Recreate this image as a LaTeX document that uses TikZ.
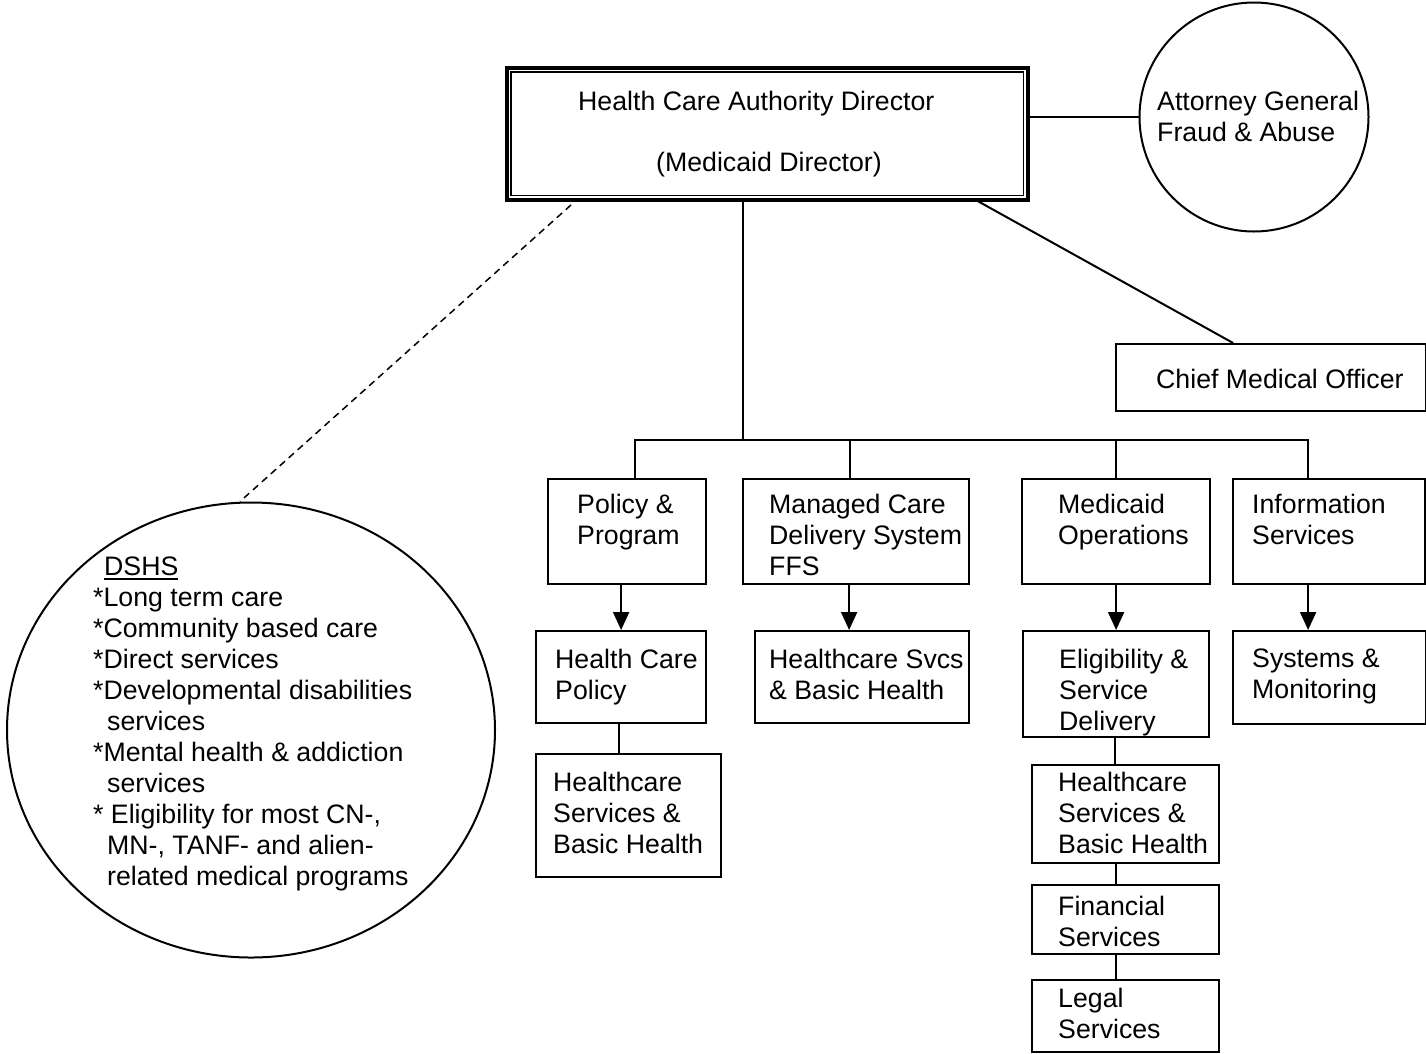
\documentclass[tikz,border=0pt]{standalone}
\usepackage{fontspec}
\setmainfont{Liberation Sans}
\usepackage{tikz}
\usetikzlibrary{shapes.geometric,arrows.meta}
\newcommand{\orgfont}{\fontsize{26.7}{31}\selectfont}

\begin{document}
\begin{tikzpicture}[x=1pt,y=-1pt,
  unit/.style={draw,line width=2.2pt,anchor=north west,inner sep=0pt},
  lbl/.style={anchor=north west,inner sep=0pt,align=left,font=\orgfont},
  link/.style={line width=2pt},
  down/.style={line width=2pt,-{Triangle[width=16pt,length=18pt]}}]
\useasboundingbox (0,0) rectangle (1426,1053);
%Boxes
\node [unit,line width=3.5pt,minimum width=521pt,minimum height=132pt] (hca) at (505,66) {};
\draw [line width=1.5pt] ([shift={(6,6)}]hca.north west) rectangle ([shift={(-6,-6)}]hca.south east);
\node [draw,circle,line width=2pt,minimum size=229pt,inner sep=0pt] (ag) at (1254,117) {};
\node [unit,minimum width=310pt,minimum height=67pt] (cmo) at (1115,343) {};
\node [unit,minimum width=158pt,minimum height=105pt] (pp) at (547,478) {};
\node [unit,minimum width=226pt,minimum height=105pt] (mc) at (742,478) {};
\node [unit,minimum width=188pt,minimum height=105pt] (mo) at (1021,478) {};
\node [unit,minimum width=192pt,minimum height=105pt] (is) at (1232,478) {};
\node [unit,minimum width=170pt,minimum height=92pt] (hcp) at (535,630) {};
\node [unit,minimum width=214pt,minimum height=92pt] (hsvc) at (754,630) {};
\node [unit,minimum width=186pt,minimum height=106pt] (esd) at (1022,630) {};
\node [unit,minimum width=193pt,minimum height=93pt] (sm) at (1232,630) {};
\node [unit,minimum width=185pt,minimum height=123pt] (hsbl) at (535,753) {};
\node [unit,minimum width=187pt,minimum height=98pt] (hsbr) at (1031,764) {};
\node [unit,minimum width=187pt,minimum height=69pt] (fin) at (1031,884) {};
\node [unit,minimum width=187pt,minimum height=72pt] (leg) at (1031,979) {};
\node [draw,ellipse,line width=2pt,minimum width=488pt,minimum height=455pt,inner sep=0pt] (dshs) at (251,730) {};
%Lines
\coordinate (bus) at (743,440);
\coordinate (dsh-top) at (571,205);
\draw [link] (hca.east |- ag.west) -- (ag.west);
\draw [link] (bus |- hca.south) -- (bus);
\draw [link] ([xshift=-51pt]hca.south east) -- ([xshift=-38pt]cmo.north);
\draw [line width=1.5pt,dash pattern=on 7pt off 5pt] (dsh-top) -- ([xshift=-11pt]dshs.north);
\draw [link] ([xshift=8pt]pp.north) |- (bus);
\draw [link] ([xshift=-6pt]mc.north) |- (bus);
\draw [link] (mo.north) |- (bus);
\draw [link] ([xshift=-21pt]is.north) |- (bus);
\draw [down] ([xshift=-6pt]pp.south) -- ([xshift=-6pt]pp.south |- hcp.north);
\draw [down] ([xshift=-7pt]mc.south) -- ([xshift=-7pt]mc.south |- hsvc.north);
\draw [down] (mo.south) -- (mo.south |- esd.north);
\draw [down] ([xshift=-21pt]is.south) -- ([xshift=-21pt]is.south |- sm.north);
\draw [link] ([xshift=-2pt]hcp.south) -- ([xshift=-2pt]hcp.south |- hsbl.north);
\draw [link] ([xshift=-1pt]esd.south) -- ([xshift=-1pt]esd.south |- hsbr.north);
\draw [link] ([xshift=-10pt]hsbr.south) -- ([xshift=-10pt]hsbr.south |- fin.north);
\draw [link] ([xshift=-10pt]fin.south) -- ([xshift=-10pt]fin.south |- leg.north);
%Text
\draw (578,91) node [lbl] (hca-t1) {Health Care Authority Director};
\draw (656,152) node [lbl] (hca-t2) {(Medicaid Director)};
\draw (1157,91) node [lbl] (ag-t) {Attorney General\\Fraud \& Abuse};
\draw (1156,369) node [lbl] (cmo-t) {Chief Medical Officer};
\draw (577,494) node [lbl] (pp-t) {Policy \&\\Program};
\draw (769,494) node [lbl] (mc-t) {Managed Care\\Delivery System\\FFS};
\draw (1058,494) node [lbl] (mo-t) {Medicaid\\Operations};
\draw (1252,494) node [lbl] (is-t) {Information\\Services};
\draw (555,649) node [lbl] (hcp-t) {Health Care\\Policy};
\draw (769,649) node [lbl] (hsvc-t) {Healthcare Svcs\\\& Basic Health};
\draw (1059,649) node [lbl] (esd-t) {Eligibility \&\\Service\\Delivery};
\draw (1252,649) node [lbl] (sm-t) {Systems \&\\Monitoring};
\draw (553,772) node [lbl] (hsbl-t) {Healthcare\\Services \&\\Basic Health};
\draw (1058,772) node [lbl] (hsbr-t) {Healthcare\\Services \&\\Basic Health};
\draw (1058,896) node [lbl] (fin-t) {Financial\\Services};
\draw (1058,988) node [lbl] (leg-t) {Legal\\Services};
\draw (93,557) node [lbl] (dshs-t) {\hspace*{11pt}\rlap{\rule[-4pt]{74pt}{2pt}}DSHS\\
*Long term care\\
*Community based care\\
*Direct services\\
*Developmental disabilities\\
\hspace*{14pt}services\\
*Mental health \& addiction\\
\hspace*{14pt}services\\
* Eligibility for most CN-,\\
\hspace*{14pt}MN-, TANF- and alien-\\
\hspace*{14pt}related medical programs};
\end{tikzpicture}
\end{document}
